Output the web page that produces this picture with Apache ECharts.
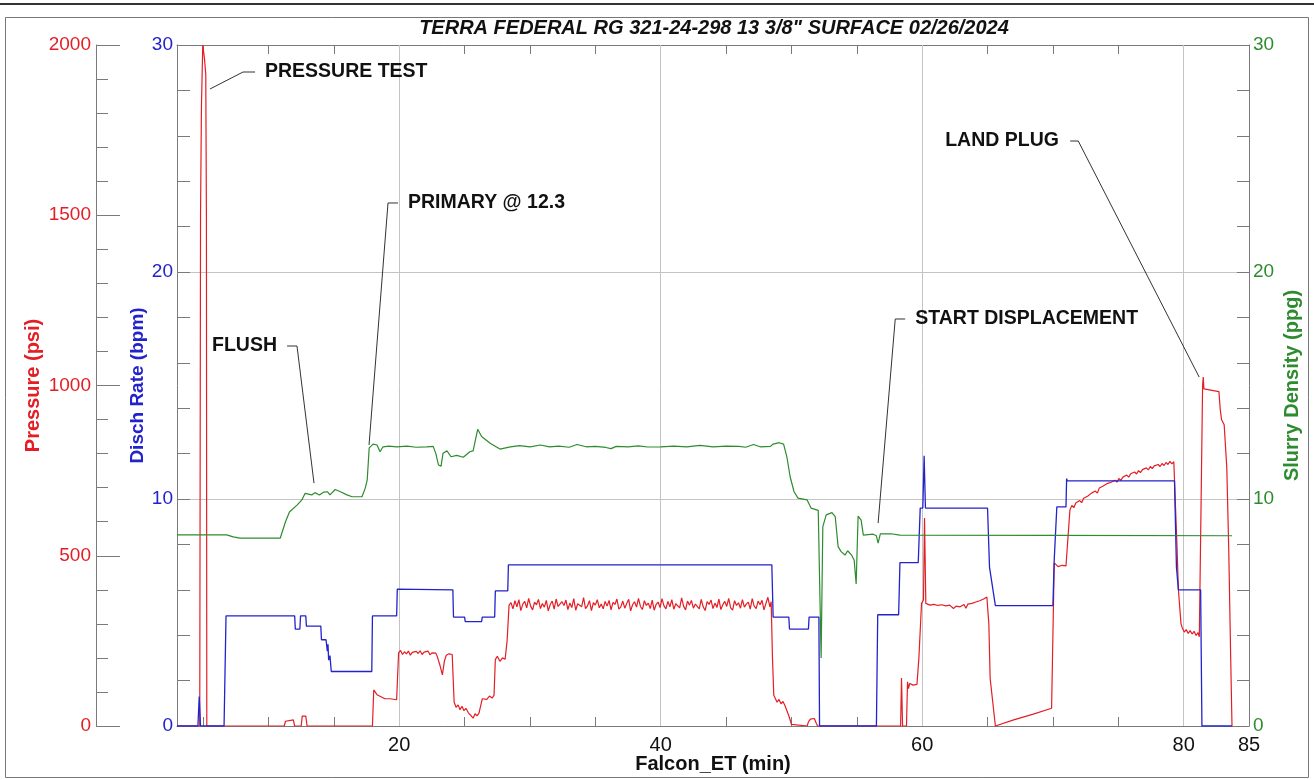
<!DOCTYPE html>
<html><head><meta charset="utf-8">
<script src="https://cdn.jsdelivr.net/npm/echarts@6/dist/echarts.min.js"></script>
<style>html,body{margin:0;padding:0;background:#fff}#c{width:1314px;height:780px}</style>
</head><body><div id="c"></div>
<script>
// ---------- data ----------
const chartTitle = 'TERRA FEDERAL RG 321-24-298 13 3/8" SURFACE 02/26/2024';
const xTickValues = [5,10,15,20,25,30,35,40,45,50,55,60,65,70,75,80,85];
const xLabelValues = [20,40,60,80,85];
const xGridValues = [20,40,60,80];

// Pressure (psi) : [min, psi]
const pressure = [
[3,0],[4.74,0],[4.8,1500],[4.87,1820],[4.97,2000],[5.1,1960],[5.2,1915],[5.25,1500],[5.28,0],
[11.2,0],[11.3,14],[11.45,18],[11.9,18],[12.0,0],[12.5,0],[12.58,29],[12.85,29],[12.95,0],
[17.95,0],[18.05,106],[18.1,110],[18.3,92],[18.6,86],[18.9,80],[19.3,80],[19.8,77],
[19.95,215],[20.1,222],[20.25,210],[20.4,218],[20.55,212],[20.7,220],[20.85,208],[21.0,216],[21.15,211],[21.3,219],[21.45,213],[21.6,221],[21.75,210],[21.9,217],[22.05,212],[22.2,220],[22.35,209],[22.5,215],[22.65,210],[22.8,214],[22.9,205],
[23.1,180],[23.3,150],[23.45,190],[23.6,208],[23.8,212],[24.05,210],
[24.2,70],[24.35,55],[24.5,62],[24.65,48],[24.8,58],[24.95,45],[25.1,52],[25.3,38],[25.5,30],[25.65,23],[25.8,36],[25.95,30],[26.1,38],[26.25,42],
[26.35,80],[26.5,85],[26.7,78],[26.9,88],[27.1,82],[27.25,90],[27.35,195],[27.5,205],[27.7,190],[27.9,200],[28.1,196],[28.25,250],[28.4,355],
[28.55,362],[28.7,344],[28.85,368],[29.0,350],[29.15,371],[29.3,339],[29.45,358],[29.6,366],[29.75,347],[29.9,375],
[30.05,352],[30.2,341],[30.35,364],[30.5,356],[30.65,372],[30.8,345],[30.95,360],[31.1,349],[31.25,369],[31.4,338],
[31.55,357],[31.7,367],[31.85,343],[32.0,373],[32.15,351],[32.3,346],[32.45,365],[32.6,354],[32.75,370],[32.9,342],
[33.05,361],[33.2,348],[33.35,374],[33.5,340],[33.65,359],[33.8,363],[33.95,350],[34.1,377],[34.25,345],[34.4,353],
[34.55,368],[34.7,339],[34.85,362],[35.0,355],[35.15,371],[35.3,347],[35.45,358],[35.6,344],[35.75,366],[35.9,352],
[36.05,369],[36.2,341],[36.35,363],[36.5,357],[36.65,373],[36.8,343],[36.95,350],[37.1,367],[37.25,346],[37.4,360],
[37.55,372],[37.7,338],[37.85,356],[38.0,365],[38.15,349],[38.3,375],[38.45,351],[38.6,342],[38.75,368],[38.9,354],
[39.05,361],[39.2,345],[39.35,370],[39.5,340],[39.65,357],[39.8,364],[39.95,348],[40.1,374],[40.25,353],[40.4,344],
[40.55,366],[40.7,350],[40.85,371],[41.0,343],[41.15,359],[41.3,362],[41.45,347],[41.6,376],[41.75,352],[41.9,341],
[42.05,367],[42.2,355],[42.35,369],[42.5,346],[42.65,358],[42.8,363],[42.95,344],[43.1,372],[43.25,350],[43.4,339],
[43.55,365],[43.7,357],[43.85,370],[44.0,345],[44.15,361],[44.3,348],[44.45,373],[44.6,342],[44.75,356],[44.9,366],
[45.05,351],[45.2,375],[45.35,347],[45.5,340],[45.65,368],[45.8,354],[45.95,362],[46.1,346],[46.25,371],[46.4,349],
[46.55,358],[46.7,364],[46.85,343],[47.0,374],[47.15,352],[47.3,345],[47.45,367],[47.6,356],[47.75,369],[47.9,341],
[48.05,360],[48.2,378],[48.35,350],[48.45,365],
[48.55,200],[48.65,90],[48.75,82],[48.9,70],[49.05,78],[49.2,65],[49.35,72],[49.5,60],[49.65,55],[49.8,30],[50.0,5],[50.1,0],
[51.2,0],[51.3,12],[51.45,20],[51.6,15],[51.75,22],[51.9,8],[52.0,0],
[58.35,0],[58.42,141],[58.5,0],[58.8,0],[58.88,130],[58.95,110],[59.05,125],[59.3,120],[59.6,122],[59.75,200],[59.95,360],[60.1,370],[60.18,611],[60.28,360],
[60.6,355],[60.9,357],[61.2,354],[61.5,356],[61.8,353],[62.1,355],[62.4,345],[62.6,352],[62.9,350],[63.2,357],[63.35,346],[63.5,358],[63.8,360],[64.1,364],[64.4,368],[64.7,373],[64.95,379],
[65.1,300],[65.2,140],[65.6,0],[67.0,18],[68.5,35],[69.9,52],[70.0,56],[70.1,479],[70.4,468],[70.7,472],[71.0,470],
[71.3,634],[71.45,648],[71.6,641],[71.75,655],[71.9,650],[72.05,662],[72.2,656],[72.35,669],[72.5,664],[72.65,675],[72.8,670],[72.95,684],[73.1,679],[73.25,690],[73.4,684],[73.55,699],[73.7,694],[73.85,705],[74.0,700],[74.15,712],[74.3,707],[74.45,716],[74.6,711],[74.75,722],[74.9,716],[75.05,727],[75.2,721],[75.35,731],[75.5,726],[75.65,737],[75.8,731],[75.95,741],[76.1,736],[76.25,746],[76.4,740],[76.55,750],[76.7,744],[76.85,753],[77.0,748],[77.15,758],[77.3,752],[77.45,762],[77.6,756],[77.75,764],[77.9,759],[78.05,768],[78.2,762],[78.35,771],[78.5,765],[78.65,774],[78.8,768],[78.95,777],[79.1,770],[79.25,776],[79.4,772],
[79.5,520],[79.6,400],[79.8,300],[79.9,288],[80.05,276],[80.2,283],[80.35,272],[80.5,280],[80.65,270],[80.8,278],[80.95,266],[81.1,274],[81.2,262],
[81.35,700],[81.45,1000],[81.5,1025],[81.55,990],[81.65,985],[82.7,982],[82.8,930],[82.9,900],[83.1,885],[83.3,760],[83.45,520],[83.6,200],[83.7,0]
];

// Disch Rate (bpm) : [min, bpm]
const rate = [
[3,0],[4.6,0],[4.7,1.3],[4.8,0],[6.6,0],[6.75,4.85],[12.0,4.85],[12.05,4.27],[12.4,4.27],[12.45,4.85],[12.85,4.85],[12.9,4.4],[14.0,4.4],[14.05,3.8],[14.4,3.8],[14.5,3.3],[14.55,3.6],[14.6,2.9],[14.7,3.1],[14.8,2.4],
[17.9,2.4],[17.95,4.85],[19.8,4.85],[19.85,6.03],[24.1,6.0],[24.15,4.8],[25.0,4.8],[25.05,4.6],[26.3,4.6],[26.35,4.8],[27.3,4.8],[27.35,5.95],[28.3,5.95],[28.35,7.1],
[48.5,7.1],[48.6,4.8],[49.8,4.8],[49.85,4.27],[51.3,4.27],[51.35,4.8],[52.1,4.8],[52.15,0],[56.5,0],[56.6,4.9],[58.2,4.9],[58.3,7.2],[59.7,7.2],[59.85,9.6],[60.05,9.6],[60.15,11.9],[60.25,9.6],
[65.0,9.6],[65.15,7.0],[65.6,5.3],[70.0,5.3],[70.1,7.3],[70.3,9.65],[71.0,9.65],[71.05,10.9],[71.1,10.8],[79.3,10.8],[79.45,7.0],[79.6,6.0],[81.3,6.0],[81.4,0],[83.7,0]
];

// Slurry Density (ppg) : [min, ppg]
const density = [
[3,8.42],[6.8,8.42],[7.3,8.33],[7.8,8.28],[10.9,8.28],[11.3,9.0],[11.6,9.43],[12.2,9.74],[12.55,9.96],[12.8,10.25],[13.3,10.18],[13.55,10.28],[13.9,10.18],[14.2,10.3],[14.5,10.32],[14.7,10.18],[15.1,10.42],[15.5,10.32],[16.0,10.18],[16.4,10.1],[17.15,10.1],[17.4,10.48],[17.55,10.84],[17.7,12.25],
[18.0,12.42],[18.3,12.38],[18.53,12.08],[18.76,12.3],[19.2,12.33],[19.8,12.3],[20.6,12.33],[21.3,12.28],[22.1,12.3],[22.6,12.32],[22.8,12.0],[23.0,11.5],[23.2,11.45],[23.35,12.02],[23.65,12.12],[23.96,11.86],[24.4,11.92],[24.9,11.84],[25.4,12.08],[25.65,12.12],[26.0,13.07],[26.3,12.75],[26.95,12.46],[27.7,12.2],
[28.5,12.3],[29.2,12.35],[30,12.3],[30.8,12.38],[31.5,12.3],[32.2,12.33],[33,12.28],[33.6,12.4],[34.3,12.3],[35,12.32],[35.8,12.27],[36.2,12.22],[36.6,12.32],[37.5,12.3],[38.3,12.34],[39,12.29],[40,12.3],[41,12.33],[42,12.3],[43,12.36],[44,12.3],[45,12.33],[46,12.32],[46.5,12.28],[47.1,12.4],[47.6,12.3],[48.4,12.32],
[48.6,12.42],[49.06,12.48],[49.4,12.42],[49.65,11.86],[49.9,10.98],[50.2,10.32],[50.5,10.04],[51.2,9.96],[51.5,9.6],[52.05,9.5],[52.1,9.44],[52.27,3.0],[52.4,8.78],[52.66,9.3],[53.1,9.4],[53.35,9.22],[53.57,7.9],[53.8,7.68],[54.1,7.53],[54.3,7.72],[54.6,7.53],[54.8,7.3],[54.95,6.26],[55.1,9.25],[55.33,9.07],[55.5,8.41],
[56.25,8.45],[56.5,8.38],[56.63,8.06],[56.8,8.46],[57.6,8.47],[58.3,8.41],[70,8.4],[83.7,8.38]
];

// Annotations, in data units (minutes, bpm axis)
const annotations = [
  {text:'PRESSURE TEST',     at:[9.73,28.81],  leader:[[5.52,28.06],[8.05,28.81],[8.97,28.81]]},
  {text:'PRIMARY @ 12.3',    at:[20.67,23.04], leader:[[19.91,23.04],[19.14,23.04],[17.69,12.38]]},
  {text:'FLUSH',             at:[5.68,16.74],  leader:[[11.42,16.74],[12.18,16.74],[13.48,10.70]]},
  {text:'START DISPLACEMENT',at:[59.47,17.93], leader:[[58.70,17.93],[57.94,17.93],[56.63,8.94]]},
  {text:'LAND PLUG',         at:[61.76,25.77], leader:[[71.32,25.77],[71.94,25.77],[81.19,15.37]]}
];

// ---------- chart ----------
const FONT = "'Liberation Sans', Arial, Helvetica, sans-serif";
const RED = '#e31e24', BLUE = '#2323cc', GREEN = '#2e8b2e';
const AXIS_GRAY = '#7a7a7a', GRID_GRAY = '#c4c4c4';
const plain = v => String(v);

const chart = echarts.init(document.getElementById('c'), null, {renderer:'canvas'});

const option = {
  animation: false,
  backgroundColor: '#fff',
  title: {
    text: chartTitle, left: 714, top: 18, padding: 0, textAlign: 'center',
    textStyle: {fontFamily: FONT, fontSize: 20, fontWeight: 'bold', fontStyle: 'italic', color: '#111'}
  },
  grid: {left: 177, right: 65, top: 45, bottom: 54, containLabel: false, outerBoundsMode: 'none'},
  xAxis: [
    {
      type: 'value', min: 3, max: 85, position: 'bottom',
      name: 'Falcon_ET (min)', nameLocation: 'middle', nameGap: 28, nameMoveOverlap: false,
      nameTextStyle: {fontFamily: FONT, fontSize: 20, fontWeight: 'bold', color: '#111'},
      axisLine: {show: true, onZero: false, lineStyle: {color: AXIS_GRAY, width: 1}},
      axisTick: {show: true, inside: true, length: 9, customValues: xTickValues, lineStyle: {color: AXIS_GRAY}},
      axisLabel: {customValues: xLabelValues, formatter: plain, fontFamily: FONT, fontSize: 20, color: '#111', margin: 9},
      splitLine: {show: false}
    },
    {
      type: 'value', min: 3, max: 85, position: 'top',
      axisLine: {show: true, onZero: false, lineStyle: {color: AXIS_GRAY, width: 1}},
      axisTick: {show: true, inside: true, length: 9, customValues: xTickValues, lineStyle: {color: AXIS_GRAY}},
      axisLabel: {show: false},
      splitLine: {show: false}
    }
  ],
  yAxis: [
    {
      type: 'value', min: 0, max: 2000, interval: 500, position: 'left', offset: 81,
      name: 'Pressure (psi)', nameLocation: 'middle', nameGap: 53, nameMoveOverlap: false,
      nameTextStyle: {fontFamily: FONT, fontSize: 20, fontWeight: 'bold', color: RED},
      axisLine: {show: true, onZero: false, lineStyle: {color: AXIS_GRAY}},
      axisTick: {show: true, inside: true, length: 24, lineStyle: {color: AXIS_GRAY}},
      minorTick: {show: true, splitNumber: 5, length: 12, lineStyle: {color: AXIS_GRAY}},
      axisLabel: {formatter: plain, fontFamily: FONT, fontSize: 19, color: RED, margin: 5},
      splitLine: {show: false}
    },
    {
      type: 'value', min: 0, max: 30, interval: 10, position: 'left', offset: 0,
      name: 'Disch Rate (bpm)', nameLocation: 'middle', nameGap: 30, nameMoveOverlap: false,
      nameTextStyle: {fontFamily: FONT, fontSize: 19, fontWeight: 'bold', color: BLUE},
      axisLine: {show: true, onZero: false, lineStyle: {color: AXIS_GRAY}},
      axisTick: {show: true, inside: true, length: 13, lineStyle: {color: AXIS_GRAY}},
      minorTick: {show: true, splitNumber: 5, length: 13, lineStyle: {color: AXIS_GRAY}},
      axisLabel: {formatter: plain, fontFamily: FONT, fontSize: 19, color: BLUE, margin: 4},
      splitLine: {show: true, lineStyle: {color: GRID_GRAY, width: 1}}
    },
    {
      type: 'value', min: 0, max: 30, interval: 10, position: 'right',
      name: 'Slurry Density (ppg)', nameLocation: 'middle', nameGap: 33, nameMoveOverlap: false,
      nameTextStyle: {fontFamily: FONT, fontSize: 20, fontWeight: 'bold', color: GREEN},
      axisLine: {show: true, onZero: false, lineStyle: {color: AXIS_GRAY}},
      axisTick: {show: true, inside: true, length: 12, lineStyle: {color: AXIS_GRAY}},
      minorTick: {show: true, splitNumber: 5, length: 12, lineStyle: {color: AXIS_GRAY}},
      axisLabel: {formatter: plain, fontFamily: FONT, fontSize: 19, color: GREEN, margin: 4},
      splitLine: {show: false}
    }
  ],
  series: [
    {
      name: 'grid', type: 'line', data: [], xAxisIndex: 0, yAxisIndex: 1, z: 1,
      markLine: {
        silent: true, symbol: ['none','none'], z: 1, animation: false,
        label: {show: false},
        lineStyle: {color: GRID_GRAY, type: 'solid', width: 1},
        data: xGridValues.map(v => ({xAxis: v}))
      }
    },
    {name: 'Pressure', type: 'line', data: pressure, xAxisIndex: 0, yAxisIndex: 0, showSymbol: false, z: 3,
     lineStyle: {color: RED, width: 1.2}, itemStyle: {color: RED}},
    {name: 'Disch Rate', type: 'line', data: rate, xAxisIndex: 0, yAxisIndex: 1, showSymbol: false, z: 4,
     lineStyle: {color: BLUE, width: 1.3}, itemStyle: {color: BLUE}},
    {name: 'Slurry Density', type: 'line', data: density, xAxisIndex: 0, yAxisIndex: 2, showSymbol: false, z: 5,
     lineStyle: {color: GREEN, width: 1.2}, itemStyle: {color: GREEN}}
  ]
};
chart.setOption(option);

// annotations & frame
const toPx = p => chart.convertToPixel({xAxisIndex: 0, yAxisIndex: 1}, p);
const graphics = [
  {type: 'line', shape: {x1: 0, y1: 4, x2: 1314, y2: 4}, style: {stroke: '#333', lineWidth: 2}, silent: true},
  {type: 'rect', shape: {x: 5.5, y: 17.5, width: 1303, height: 760}, style: {stroke: '#777', fill: null, lineWidth: 1}, silent: true}
];
annotations.forEach(a => {
  const pos = toPx(a.at);
  graphics.push({
    type: 'text', x: pos[0], y: pos[1], silent: true, z: 10,
    style: {text: a.text, font: "bold 19.5px " + FONT, fill: '#111', align: 'left', verticalAlign: 'middle'}
  });
  graphics.push({
    type: 'polyline', silent: true, z: 10,
    shape: {points: a.leader.map(toPx)},
    style: {stroke: '#333', lineWidth: 1, fill: null}
  });
});
chart.setOption({graphic: graphics});
</script>
</body></html>
